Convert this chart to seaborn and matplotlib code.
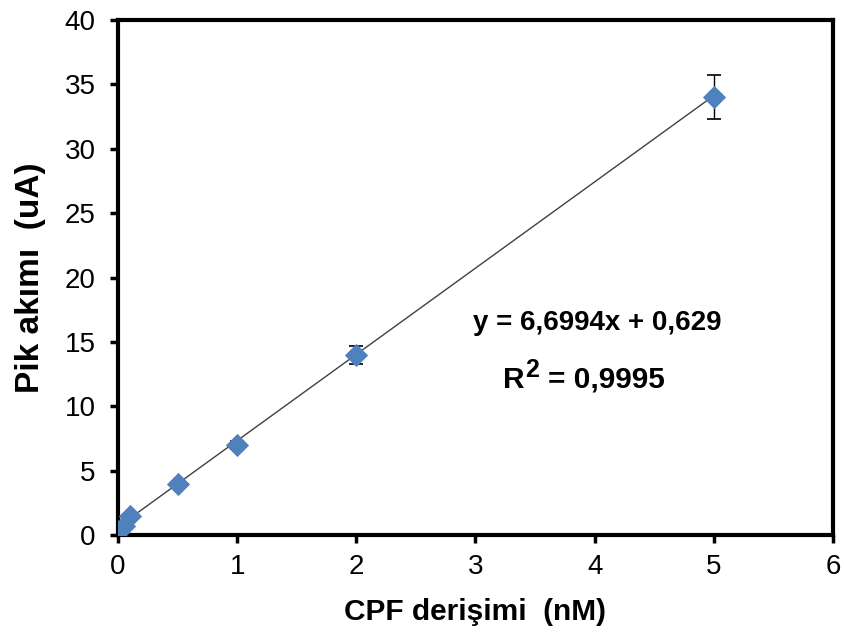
import matplotlib
matplotlib.use("Agg")
import matplotlib.pyplot as plt
import seaborn as sns
import numpy as np
import pandas as pd

# Data
conc = [0.0, 0.05, 0.1, 0.5, 1.0, 2.0, 5.0]
current = [0.2, 0.7, 1.5, 4.0, 7.0, 14.0, 34.0]
err = [0.1, 0.1, 0.15, 0.2, 0.3, 0.7, 1.7]
slope = 6.6994
intercept = 0.629
eq_text = "y = 6,6994x + 0,629"
r2_base = "R"
r2_sup = "2"
r2_rest = "= 0,9995"
x_ticks = [0, 1, 2, 3, 4, 5, 6]
y_ticks = [0, 5, 10, 15, 20, 25, 30, 35, 40]

sns.set_style("white")
plt.rcParams['font.family'] = ['Liberation Sans', 'DejaVu Sans']
plt.rcParams['text.color'] = 'black'
plt.rcParams['axes.labelcolor'] = 'black'
plt.rcParams['xtick.color'] = 'black'
plt.rcParams['ytick.color'] = 'black'

fig = plt.figure(figsize=(8.45, 6.42), dpi=100)
ax = fig.add_axes([118/845, 1-535/642, (833-118)/845, (535-20)/642])

df = pd.DataFrame({"conc": conc, "current": current})
fit_x = np.array([0.0, 5.0])
fit_df = pd.DataFrame({"x": fit_x, "y": slope*fit_x + intercept})

sns.lineplot(data=fit_df, x="x", y="y", ax=ax, color="#404040", linewidth=1.0)
ax.errorbar(conc, current, yerr=err, fmt="none", ecolor="black", elinewidth=1.0, capsize=5, capthick=1.2, zorder=2)
sns.scatterplot(data=df, x="conc", y="current", ax=ax, marker="D", s=140, color="#4F81BD", edgecolor="#4F81BD", linewidth=0, zorder=3)

ax.set_xlim(0, 6)
ax.set_ylim(0, 40)
ax.set_xticks(x_ticks)
ax.set_yticks(y_ticks)
ax.tick_params(axis="both", direction="out", length=6, width=2.5, labelsize=20, color="black",
               labelcolor="black", bottom=True, left=True)
ax.tick_params(axis="y", pad=10)
ax.tick_params(axis="x", pad=8)
for s in ax.spines.values():
    s.set_color("black")
    s.set_linewidth(3)

ax.set_xlabel("CPF derişimi  (nM)", fontsize=21.5, fontweight="bold", color="black")
ax.set_ylabel("Pik akımı  (uA)", fontsize=24, fontweight="bold", color="black")
ax.xaxis.set_label_coords(0.5, -0.122)
ax.yaxis.set_label_coords(-0.1, 0.499)

ax.text(4.02, 16.47, eq_text, fontsize=20, fontweight="bold", ha="center", va="center", color="black")
ax.text(3.23, 11.42, r2_base, fontsize=21.5, fontweight="bold", ha="left", va="baseline", color="black")
ax.text(3.415, 12.27, r2_sup, fontsize=18, fontweight="bold", ha="left", va="baseline", color="black")
ax.text(3.61, 11.42, r2_rest, fontsize=21.5, fontweight="bold", ha="left", va="baseline", color="black")

fig.savefig("out.png", dpi=100)
